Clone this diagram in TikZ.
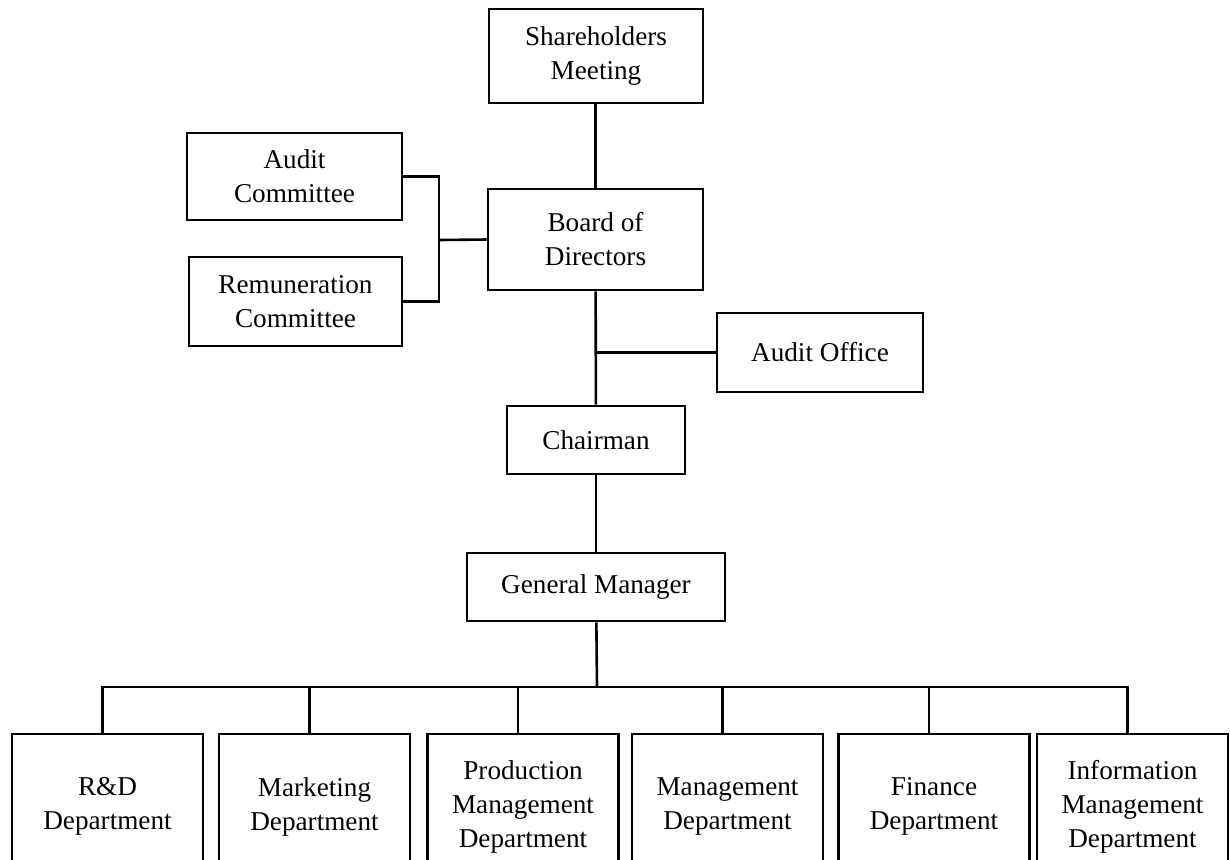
\documentclass[tikz,border=0pt]{standalone}
\usepackage{fontspec}
\setmainfont{Liberation Serif}
\usetikzlibrary{positioning}
\usetikzlibrary{calc}
\tikzset{
    % Lines for boxes and links
    every node/.style={align=center},
%
    unit/.style={
        draw, rectangle, line width=1.3pt, inner sep=2pt,
        font=\fontsize{13.6}{17}\selectfont},
    dept/.style={
        unit, minimum width=95.5pt, minimum height=72.5pt},
    link/.style={draw, black, line width=1.3pt},
    drop/.style={xshift=-2.5pt},
}

\begin{document}
\begin{tikzpicture}[x=0.5pt, y=-0.5pt]

    \clip (0,0) rectangle (1230,859);

    \path
        (596,56) node [unit, minimum width=107pt, minimum height=47pt]
            (share) {Shareholders\\Meeting}
        (595.5,239.5) node [unit, minimum width=107.5pt, minimum height=50.5pt]
            (board) {Board of\\Directors}
        (294.5,176.5) node [unit, minimum width=107.5pt, minimum height=43.5pt]
            (audit com) {Audit\\Committee}
        (295.5,301.5) node [unit, minimum width=106.5pt, minimum height=44.5pt]
            (pay com) {Remuneration\\Committee}
        (820,352.5) node [unit, minimum width=103pt, minimum height=39.5pt]
            (audit off) {Audit Office}
        (596,440) node [unit, minimum width=89pt, minimum height=34pt]
            (chair) {Chairman}
        (596,587) node [unit, minimum width=129pt, minimum height=34pt]
            (gm) {General Manager};

    \path
        (107.5,806.5) node [dept] (rnd) {R\&D\\Department}
        (314.5,806.5) node [dept] (mkt) {Marketing\\Department}
        (523,806.5) node [dept] (prod) {Production\\Management\\Department}
        (727.5,806.5) node [dept] (mgmt) {Management\\Department}
        (934,806.5) node [dept] (fin) {Finance\\Department}
        (1132.5,806.5) node [dept] (info) {Information\\Management\\Department};

    \coordinate (com join) at (439,240);
    \coordinate (bus) at (597,687);

    \path [link] (share.south -| board) -- (board);
    \path [link] (audit com.east) -| (com join) |- (pay com.east);
    \path [link] (com join) -- (board.west);
    \path [link] (board) -- (chair);
    \path [link] (audit off.west) -- (audit off.west -| chair);
    \path [link] (chair) -- (gm);
    \path [link] (gm) -- (bus);
    \path [link] ([drop]rnd.north) |- (bus) -| ([drop]info.north);
    \path [link] ([drop]mkt.north) -- ([drop]mkt.north |- bus);
    \path [link] ([drop]prod.north) -- ([drop]prod.north |- bus);
    \path [link] ([drop]mgmt.north) -- ([drop]mgmt.north |- bus);
    \path [link] ([drop]fin.north) -- ([drop]fin.north |- bus);
\end{tikzpicture}
\end{document}
